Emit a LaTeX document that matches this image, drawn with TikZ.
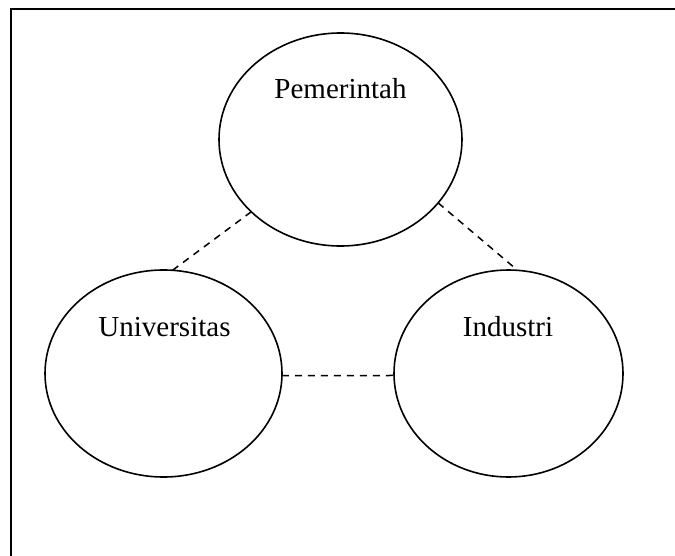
\documentclass[tikz,border=0pt]{standalone}
\usepackage{fontspec}
\setmainfont{Liberation Serif}
\usetikzlibrary{shapes.geometric}

\tikzset{
  actor/.style={draw, ellipse, line width=1.6pt, inner sep=0pt, outer sep=0pt},
  caption/.style={anchor=base, inner sep=0pt, font=\fontsize{29}{34}\selectfont},
  link/.style={line width=1.5pt, dash pattern=on 7pt off 6pt},
  frame/.style={line width=2.3pt}
}

\begin{document}
\begin{tikzpicture}[x=1pt,y=-1pt]
  \useasboundingbox (0,0) rectangle (675,556);

  % outer frame (top and left edges)
  \coordinate (ftr) at (676,9);
  \coordinate (ftl) at (11,9);
  \coordinate (fbl) at (11,557);
  \draw[frame] (ftr) -- (ftl) -- (fbl);

  % the three actors
  \node[actor, minimum width=243pt, minimum height=213pt] (pem) at (340.5,139.5) {};
  \node[actor, minimum width=237pt, minimum height=207pt] (univ) at (163.5,373.5) {};
  \node[actor, minimum width=229pt, minimum height=207pt] (ind) at (508.5,373.5) {};

  \node[caption] (pemtext) at (340.5,99) {Pemerintah};
  \node[caption] (univtext) at (164.5,336) {Universitas};
  \node[caption] (indtext) at (508,336) {Industri};

  % relations
  \draw[link] (pem.219.5) -- (univ.85.3);
  \draw[link] (pem.327.8) -- (ind.85.3);
  \draw[link] (univ.-1.2) -- (ind.181.3);
\end{tikzpicture}
\end{document}
